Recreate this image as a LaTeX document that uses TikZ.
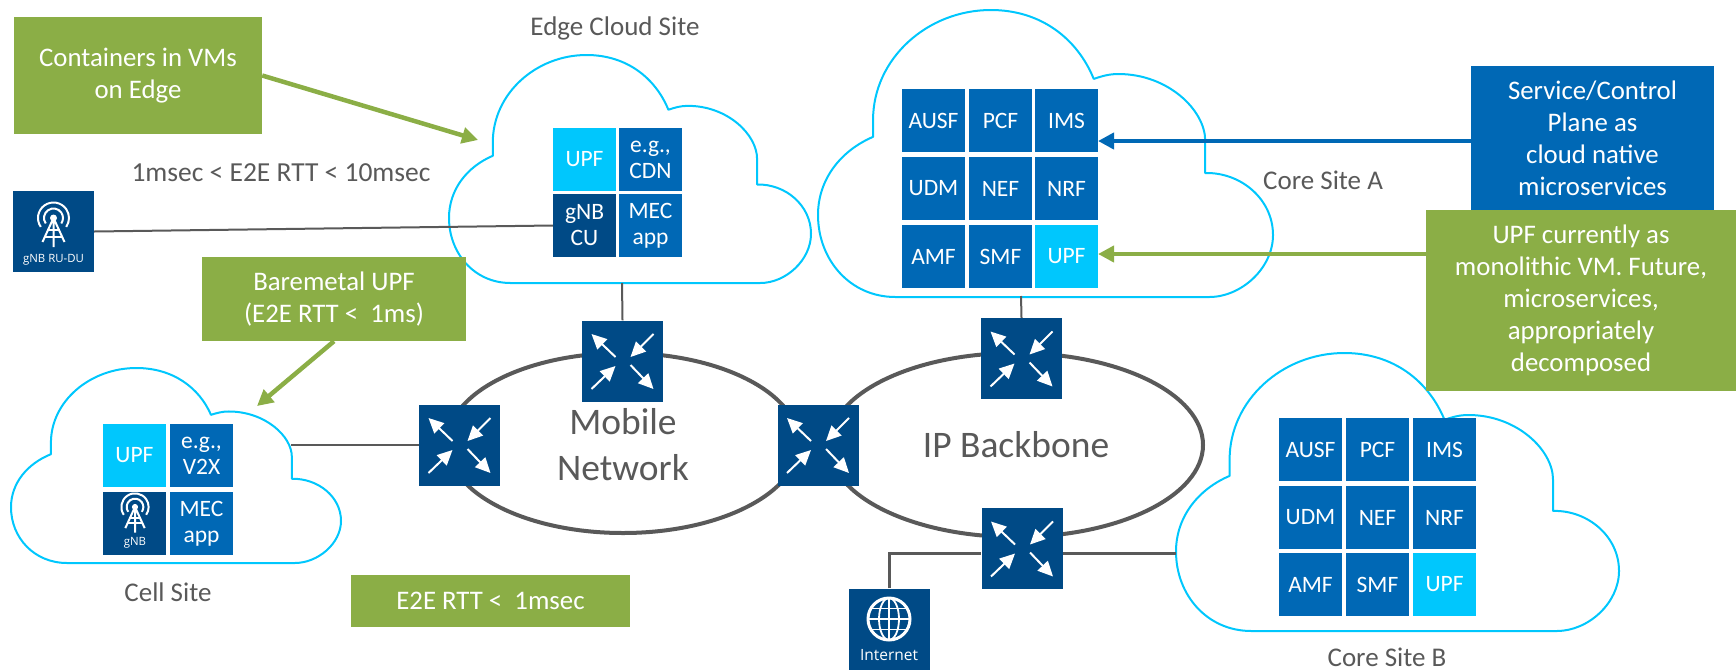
\documentclass[tikz,border=0pt]{standalone}
\usepackage{fontspec}
\setmainfont{Carlito}
\newfontfamily\iconfont{Open Sans}
\usetikzlibrary{arrows.meta}

\definecolor{tiledark}{HTML}{004A86}
\definecolor{tilemid}{HTML}{0068B5}
\definecolor{tilelight}{HTML}{00C7FD}
\definecolor{noteGreen}{HTML}{8BAE46}
\definecolor{textgrey}{HTML}{595959}

\tikzset{
  tile/.style={minimum width=63pt,minimum height=63pt,inner sep=0pt,text=white,align=center,font=\fontsize{23.5}{26}\selectfont},
  midtile/.style={tile,fill=tilemid},
  lighttile/.style={tile,fill=tilelight},
  darktile/.style={tile,fill=tiledark},
  notebox/.style={fill=noteGreen,text=white,inner sep=0pt,align=center,font=\fontsize{26.8}{32}\selectfont},
  lowtext/.style={execute at begin node={\rule{0pt}{24pt}}},
  sitelabel/.style={text=textgrey,inner sep=0pt,font=\fontsize{27}{32}\selectfont},
  netlabel/.style={text=textgrey,inner sep=0pt,align=center,font=\fontsize{37.5}{46}\selectfont},
  netring/.style={draw=textgrey,line width=4pt},
  sitecloud/.style={draw=tilelight,line width=2pt,line join=round},
  iconbox/.style={fill=tiledark,minimum width=81pt,minimum height=81pt,inner sep=0pt},
  iconlabel/.style={text=white,inner sep=0pt,font=\iconfont\fontsize{11.4}{13}\selectfont},
  link/.style={draw=textgrey,line width=2pt},
  notearrow/.style={line width=4.5pt,-{Triangle[length=16pt,width=16pt]}},
  rtarrow/.style={draw=white,line width=2pt,-{Triangle[length=15pt,width=14pt]}}
}

% cloud outline, #1 #2 left top, #3 #4 width height
\newcommand{\cloudsite}[4]{
  \draw[sitecloud,x=#3pt,y=-#4pt,shift={(#1pt,-#2pt)}] (0.121,0.442) -- (0.121,0.383)
    .. controls (0.121,0.17) and (0.24,0) .. (0.38,0)
    .. controls (0.49,0) and (0.57,0.10) .. (0.606,0.24)
    .. controls (0.625,0.23) and (0.64,0.223) .. (0.66,0.223)
    .. controls (0.77,0.223) and (0.851,0.35) .. (0.851,0.455)
    -- (0.851,0.568)
    .. controls (0.93,0.565) and (1,0.66) .. (1,0.784)
    .. controls (1,0.90) and (0.93,1) .. (0.86,1)
    -- (0.17,1)
    .. controls (0.07,1) and (0,0.87) .. (0,0.714)
    .. controls (0,0.59) and (0.05,0.49) .. cycle;
}

% radio mast, #1 place, #2 scale
\newcommand{\mastmark}[2]{
  \begin{scope}[shift={(#1)},scale=#2,draw=white,line width=2pt]
    \draw (215:15.5pt) arc[start angle=215,end angle=-35,radius=15.5pt];
    \draw (215:9.5pt) arc[start angle=215,end angle=-35,radius=9.5pt];
    \fill[white] (0,0) circle[radius=3.5pt];
    \draw (0,0) -- (-11,24) (0,0) -- (11,24) (0,0) -- (0,29);
    \draw (-6,12) -- (6,12) (-8.5,18.5) -- (8.5,18.5);
  \end{scope}
}

\begin{document}
\begin{tikzpicture}[x=1pt,y=-1pt]
\useasboundingbox (0,0) rectangle (1736,670);

% sites
\cloudsite{449}{55}{362}{228}
\cloudsite{818}{10}{455}{287}
\cloudsite{11}{368}{330}{195}
\cloudsite{1176}{353}{443}{278}

% networks
\draw[netring] (623,443) ellipse [x radius=176,y radius=90];
\draw[netring] (1016,445) ellipse [x radius=187,y radius=92];
\node (mobilelabel) [netlabel] at (623,445) {Mobile\\Network};
\node (iplabel) [netlabel] at (1016,445) {IP Backbone};

% edge site
\node (edgeupf) [lighttile] at (584.5,159.5) {UPF};
\node (edgecdn) [midtile] at (650.5,159.5) {e.g.,\\CDN};
\node (edgegnb) [darktile] at (584.5,225.5) {gNB\\CU};
\node (edgemec) [midtile] at (650.5,225.5) {MEC\\app};
\node (edgetitle) [sitelabel] at (615,28) {Edge Cloud Site};

% cell site
\node (cellupf) [lighttile] at (134.5,455.5) {UPF};
\node (cellv2x) [midtile] at (201.5,455.5) {e.g.,\\V2X};
\node (cellgnb) [darktile] at (134.5,523.5) {};
\node (cellmec) [midtile] at (201.5,523.5) {MEC\\app};
\node (cellgnbtext) [iconlabel] at (135,543) {gNB};
\node (celltitle) [sitelabel] at (168,592) {Cell Site};

% core site A
\node (coreaausf) [midtile] at (933.5,120.5) {AUSF};
\node (coreapcf) [midtile] at (1000.5,120.5) {PCF};
\node (coreaims) [midtile] at (1066.5,120.5) {IMS};
\node (coreaudm) [midtile] at (933.5,188.5) {UDM};
\node (coreanef) [midtile] at (1000.5,188.5) {NEF};
\node (coreanrf) [midtile] at (1066.5,188.5) {NRF};
\node (coreaamf) [midtile] at (933.5,256.5) {AMF};
\node (coreasmf) [midtile] at (1000.5,256.5) {SMF};
\node (coreaupf) [lighttile] at (1066.5,256.5) {UPF};
\node (coreatitle) [sitelabel] at (1323,180) {Core Site A};

% core site B
\node (corebausf) [midtile] at (1310.5,449.5) {AUSF};
\node (corebpcf) [midtile] at (1377.5,449.5) {PCF};
\node (corebims) [midtile] at (1444.5,449.5) {IMS};
\node (corebudm) [midtile] at (1310.5,517.5) {UDM};
\node (corebnef) [midtile] at (1377.5,517.5) {NEF};
\node (corebnrf) [midtile] at (1444.5,517.5) {NRF};
\node (corebamf) [midtile] at (1310.5,584.5) {AMF};
\node (corebsmf) [midtile] at (1377.5,584.5) {SMF};
\node (corebupf) [lighttile] at (1444.5,584.5) {UPF};
\node (corebtitle) [sitelabel] at (1387,657) {Core Site B};

% routers and icons
\node (rtleft) [iconbox] at (459.5,445) {};
\node (rtmobile) [iconbox] at (622.5,361) {};
\node (rtmiddle) [iconbox] at (818,445) {};
\node (rtiptop) [iconbox] at (1021.5,358.5) {};
\node (rtipbottom) [iconbox] at (1022,548.5) {};
\node (internet) [iconbox] at (889,629) {};
\node (gnbru) [iconbox] at (53.5,231.5) {};
\node (gnbrutext) [iconlabel] at (53.5,260) {gNB RU-DU};
\node (internettext) [iconlabel,font=\iconfont\fontsize{15.5}{18}\selectfont] at (889,655) {Internet};

\foreach \rt in {rtleft,rtmobile,rtmiddle,rtiptop,rtipbottom} {
  \begin{scope}[shift={(\rt.center)}]
    \draw[rtarrow] (-7,-4) -- (-31,-27);
    \draw[rtarrow] (31,-27) -- (8,-4);
    \draw[rtarrow] (-31,28) -- (-7,5);
    \draw[rtarrow] (8,4) -- (31,28);
  \end{scope}
}

\mastmark{53.5,218}{1}
\mastmark{135,507}{0.88}

\begin{scope}[shift={(889,619)},draw=white]
  \draw[line width=3pt] (0,0) circle [radius=21];
  \draw[line width=1.8pt] (0,0) ellipse [x radius=10,y radius=21];
  \draw[line width=1.8pt] (0,-21) -- (0,21) (-18,-10.5) -- (18,-10.5) (-21,0) -- (21,0) (-18,10.5) -- (18,10.5);
\end{scope}

% connectors
\coordinate (edgebase) at (622,283);
\coordinate (coreabase) at (1021,296);
\coordinate (cellport) at (291,445);
\coordinate (corebport) at (1176,553);
\coordinate (internetbend) at (889,553);
\draw[link] (gnbru.east) -- (edgegnb.west);
\draw[link] (edgebase) -- (rtmobile.north);
\draw[link] (coreabase) -- (rtiptop.north);
\draw[link] (cellport) -- (rtleft.west);
\draw[link,line width=3pt] (internet.north) -- (internetbend) -- (rtipbottom.west |- internetbend);
\draw[link,line width=3pt] (rtipbottom.east |- corebport) -- (corebport);

% notes
\node (containers) [notebox,lowtext,minimum width=248pt,minimum height=117pt] at (138,75.5) {Containers in VMs\\on Edge};
\node (baremetal) [notebox,lowtext,minimum width=264pt,minimum height=84pt] at (334,299) {Baremetal UPF\\(E2E RTT <~ 1ms)};
\node (rttnote) [notebox,minimum width=279pt,minimum height=52pt] at (490.5,601) {E2E RTT <~ 1msec};
\node (service) [notebox,lowtext,fill=tilemid,minimum width=243pt,minimum height=144pt] at (1592.5,138) {Service/Control\\Plane as\\cloud native\\microservices};
\node (upfnote) [notebox,lowtext,minimum width=310pt,minimum height=181pt] at (1581,300.5) {UPF currently as\\monolithic VM. Future,\\microservices,\\appropriately\\decomposed};
\node (rtttext) [sitelabel,font=\fontsize{27.5}{32}\selectfont] at (281,173) {1msec < E2E RTT < 10msec};

\coordinate (edgein) at (478,140);
\coordinate (cellin) at (257,406);
\coordinate (imsin) at (1098,141);
\coordinate (upfin) at (1098,254);
\draw[notearrow,draw=noteGreen,fill=noteGreen] (containers.east) -- (edgein);
\draw[notearrow,draw=noteGreen,fill=noteGreen] (baremetal.south) -- (cellin);
\draw[notearrow,draw=tilemid,fill=tilemid] (service.west |- imsin) -- (imsin);
\draw[notearrow,draw=noteGreen,fill=noteGreen] (upfnote.west |- upfin) -- (upfin);
\end{tikzpicture}
\end{document}
